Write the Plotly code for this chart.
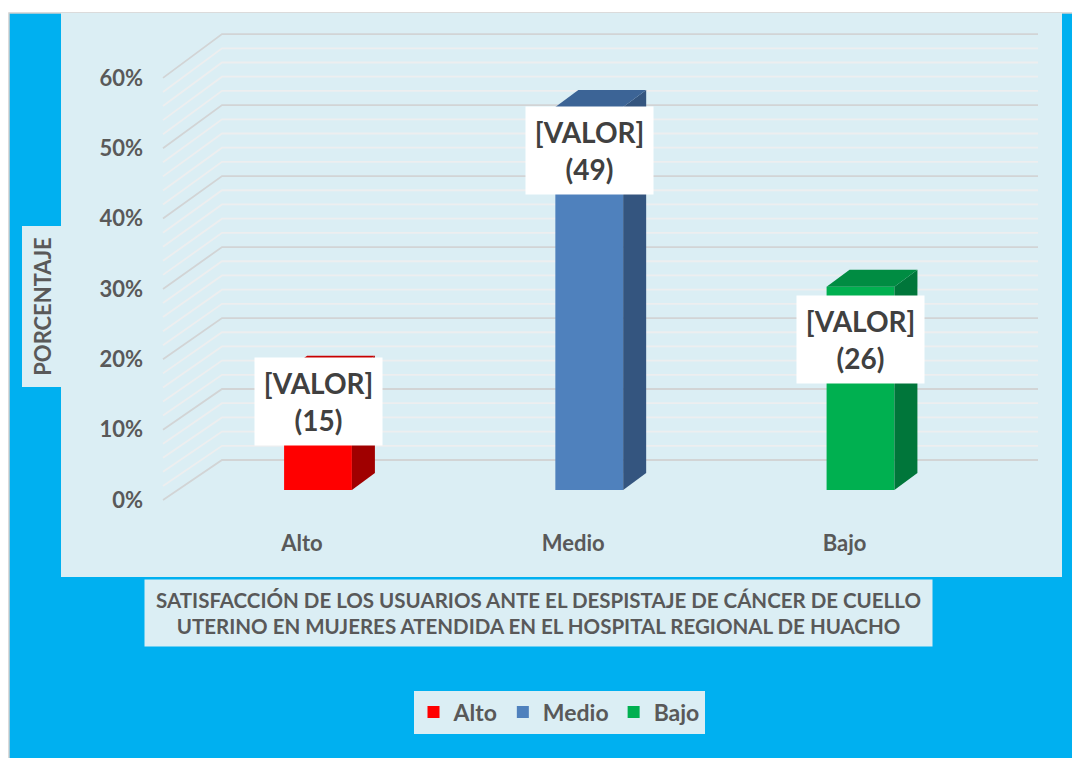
import plotly.graph_objects as go

# ---------------- data ----------------
categories = ["Alto", "Medio", "Bajo"]
counts = [15, 49, 26]
percent = [16.67, 54.44, 28.89]          # % of 90 users
label_text = ["[VALOR]<br>(%d)" % c for c in counts]

y_ticks = [0, 10, 20, 30, 40, 50, 60]
y_ticktext = ["0%", "10%", "20%", "30%", "40%", "50%", "60%"]
minor_ticks = list(range(0, 61, 2))

# ---------------- style ----------------
front_colors = ["#FF0000", "#4F81BD", "#00B050"]
side_colors = ["#A00000", "#34557F", "#00763A"]
top_colors = ["#C80000", "#3C6496", "#008C42"]
label_shift_px = [-29, -43, -53]     # vertical placement of the data-label boxes

BLUE = "#00B0F0"
LIGHT = "#DBEEF4"
TXT = "#595959"
FONT = "Lato"

# the page body adds an 8px margin; geometry below is given in screen pixels
OFF = 8
W, H = 1080 - OFF, 758 - OFF
PL, PR, PT, PB = 148, 1060, 20, 520          # plot area in screen pixels
ML, MR, MT, MB = PL - OFF, W - (PR - OFF), PT - OFF, H - (PB - OFF)
PW, PH = PR - PL, PB - PT

# pixel geometry of the axis scales (screen pixels)
X0_PX, PX_PER_CAT = 318.0, 271.25
Y0_PX, PX_PER_PCT = 490.0, 7.035
x_range = [(PL - X0_PX) / PX_PER_CAT, (PR - X0_PX) / PX_PER_CAT]
y_range = [(Y0_PX - PB) / PX_PER_PCT, (Y0_PX - PT) / PX_PER_PCT]

BAR_W = 0.25
DX, DY = 23 / PX_PER_CAT, 17 / PX_PER_PCT          # bar depth
FRONT_X = (163 - X0_PX) / PX_PER_CAT
BACK_XL = (222 - X0_PX) / PX_PER_CAT
BACK_XR = (1038 - X0_PX) / PX_PER_CAT


def front_y(v):
    return v - 10 / PX_PER_PCT


def back_y(v):
    return v * 1.009 + 30 / PX_PER_PCT


def px2paper(px, py):
    return (px - PL) / PW, (PB - py) / PH


fig = go.Figure()

# front faces
for i, (c, v) in enumerate(zip(categories, percent)):
    fig.add_trace(go.Bar(
        x=[i], y=[v], width=BAR_W, name=c,
        marker=dict(color=front_colors[i], line=dict(width=0)),
        hoverinfo="skip", showlegend=True))

# side and top faces
for i, v in enumerate(percent):
    xr = i + BAR_W / 2
    xl = i - BAR_W / 2
    fig.add_trace(go.Scatter(
        x=[xr, xr + DX, xr + DX, xr, xr], y=[0, DY, v + DY, v, 0],
        fill="toself", fillcolor=side_colors[i], mode="lines",
        line=dict(width=0, color=side_colors[i]), showlegend=False, hoverinfo="skip"))
    fig.add_trace(go.Scatter(
        x=[xl, xr, xr + DX, xl + DX, xl], y=[v, v, v + DY, v + DY, v],
        fill="toself", fillcolor=top_colors[i], mode="lines",
        line=dict(width=0, color=top_colors[i]), showlegend=False, hoverinfo="skip"))

shapes = []
# chart background
x0, y0 = px2paper(9, 13)
x1, y1 = px2paper(1090, 770)
shapes.append(dict(type="rect", xref="paper", yref="paper", x0=x0, y0=y0, x1=x1, y1=y1,
                   fillcolor=BLUE, line=dict(color="#D0D0D0", width=1.5), layer="below"))
x0, y0 = px2paper(61, 13)
x1, y1 = px2paper(1062, 577)
shapes.append(dict(type="rect", xref="paper", yref="paper", x0=x0, y0=y0, x1=x1, y1=y1,
                   fillcolor=LIGHT, line=dict(width=0), layer="below"))


def grid_path(vals):
    p = ""
    for v in vals:
        p += "M%.4f,%.4f L%.4f,%.4f L%.4f,%.4f " % (FRONT_X, front_y(v), BACK_XL, back_y(v), BACK_XR, back_y(v))
    return p


minor_only = [v for v in minor_ticks if v not in y_ticks]
shapes.append(dict(type="path", xref="x", yref="y", path=grid_path(minor_only),
                   line=dict(color="#EDEEEF", width=1.8), layer="below"))
shapes.append(dict(type="path", xref="x", yref="y", path=grid_path(y_ticks),
                   line=dict(color="#D2D4D5", width=1.8), layer="below"))

annotations = []
# data labels
for i, (v, t) in enumerate(zip(percent, label_text)):
    annotations.append(dict(x=i, y=v, xref="x", yref="y", text="<b>%s</b>" % t, showarrow=False,
                            xanchor="center", yanchor="middle",
                            yshift=label_shift_px[i], width=127, height=87, bgcolor="white", borderpad=0,
                            font=dict(family=FONT, size=28, color="#404040")))

# chart title box
tx, ty = px2paper(538.5, 613)
annotations.append(dict(x=tx, y=ty, xref="paper", yref="paper", showarrow=False,
                        xanchor="center", yanchor="middle",
                        text="<b>SATISFACCIÓN DE LOS USUARIOS ANTE EL DESPISTAJE DE CÁNCER DE CUELLO<br>"
                             "UTERINO EN MUJERES ATENDIDA EN EL HOSPITAL REGIONAL DE HUACHO</b>",
                        width=787, height=66, bgcolor=LIGHT, borderpad=0,
                        font=dict(family=FONT, size=20.5, color=TXT)))

# y axis title box
tx, ty = px2paper(41.5, 307)
annotations.append(dict(x=tx, y=ty, xref="paper", yref="paper", showarrow=False,
                        xanchor="center", yanchor="middle",
                        text="<b>PORCENTAJE</b>", textangle=-90, width=160, height=39,
                        bgcolor=LIGHT, borderpad=0,
                        font=dict(family=FONT, size=22, color=TXT)))

lx, ly = px2paper(559, 712)

fig.update_layout(
    width=W, height=H,
    margin=dict(l=ML, r=MR, t=MT, b=MB),
    paper_bgcolor="white", plot_bgcolor="rgba(0,0,0,0)",
    barmode="overlay",
    shapes=shapes, annotations=annotations,
    xaxis=dict(range=x_range, tickvals=[0, 1, 2], ticktext=categories, showgrid=False,
               zeroline=False, showline=False, ticks="", ticklabelshift=-16, ticklabelstandoff=8,
               tickfont=dict(family=FONT, size=22, color=TXT, weight="bold"), fixedrange=True),
    yaxis=dict(range=y_range, tickvals=y_ticks, ticktext=y_ticktext, showgrid=False,
               zeroline=False, showline=False, ticks="", ticklabelshift=10, ticklabelstandoff=4,
               tickfont=dict(family=FONT, size=22, color=TXT, weight="bold"), fixedrange=True),
    legend=dict(orientation="h", x=lx, y=ly, xanchor="center", yanchor="middle",
                bgcolor=LIGHT, borderwidth=0,
                font=dict(family=FONT, size=23, color=TXT, weight="bold")),
    showlegend=True,
)

fig.write_html("out.html")
